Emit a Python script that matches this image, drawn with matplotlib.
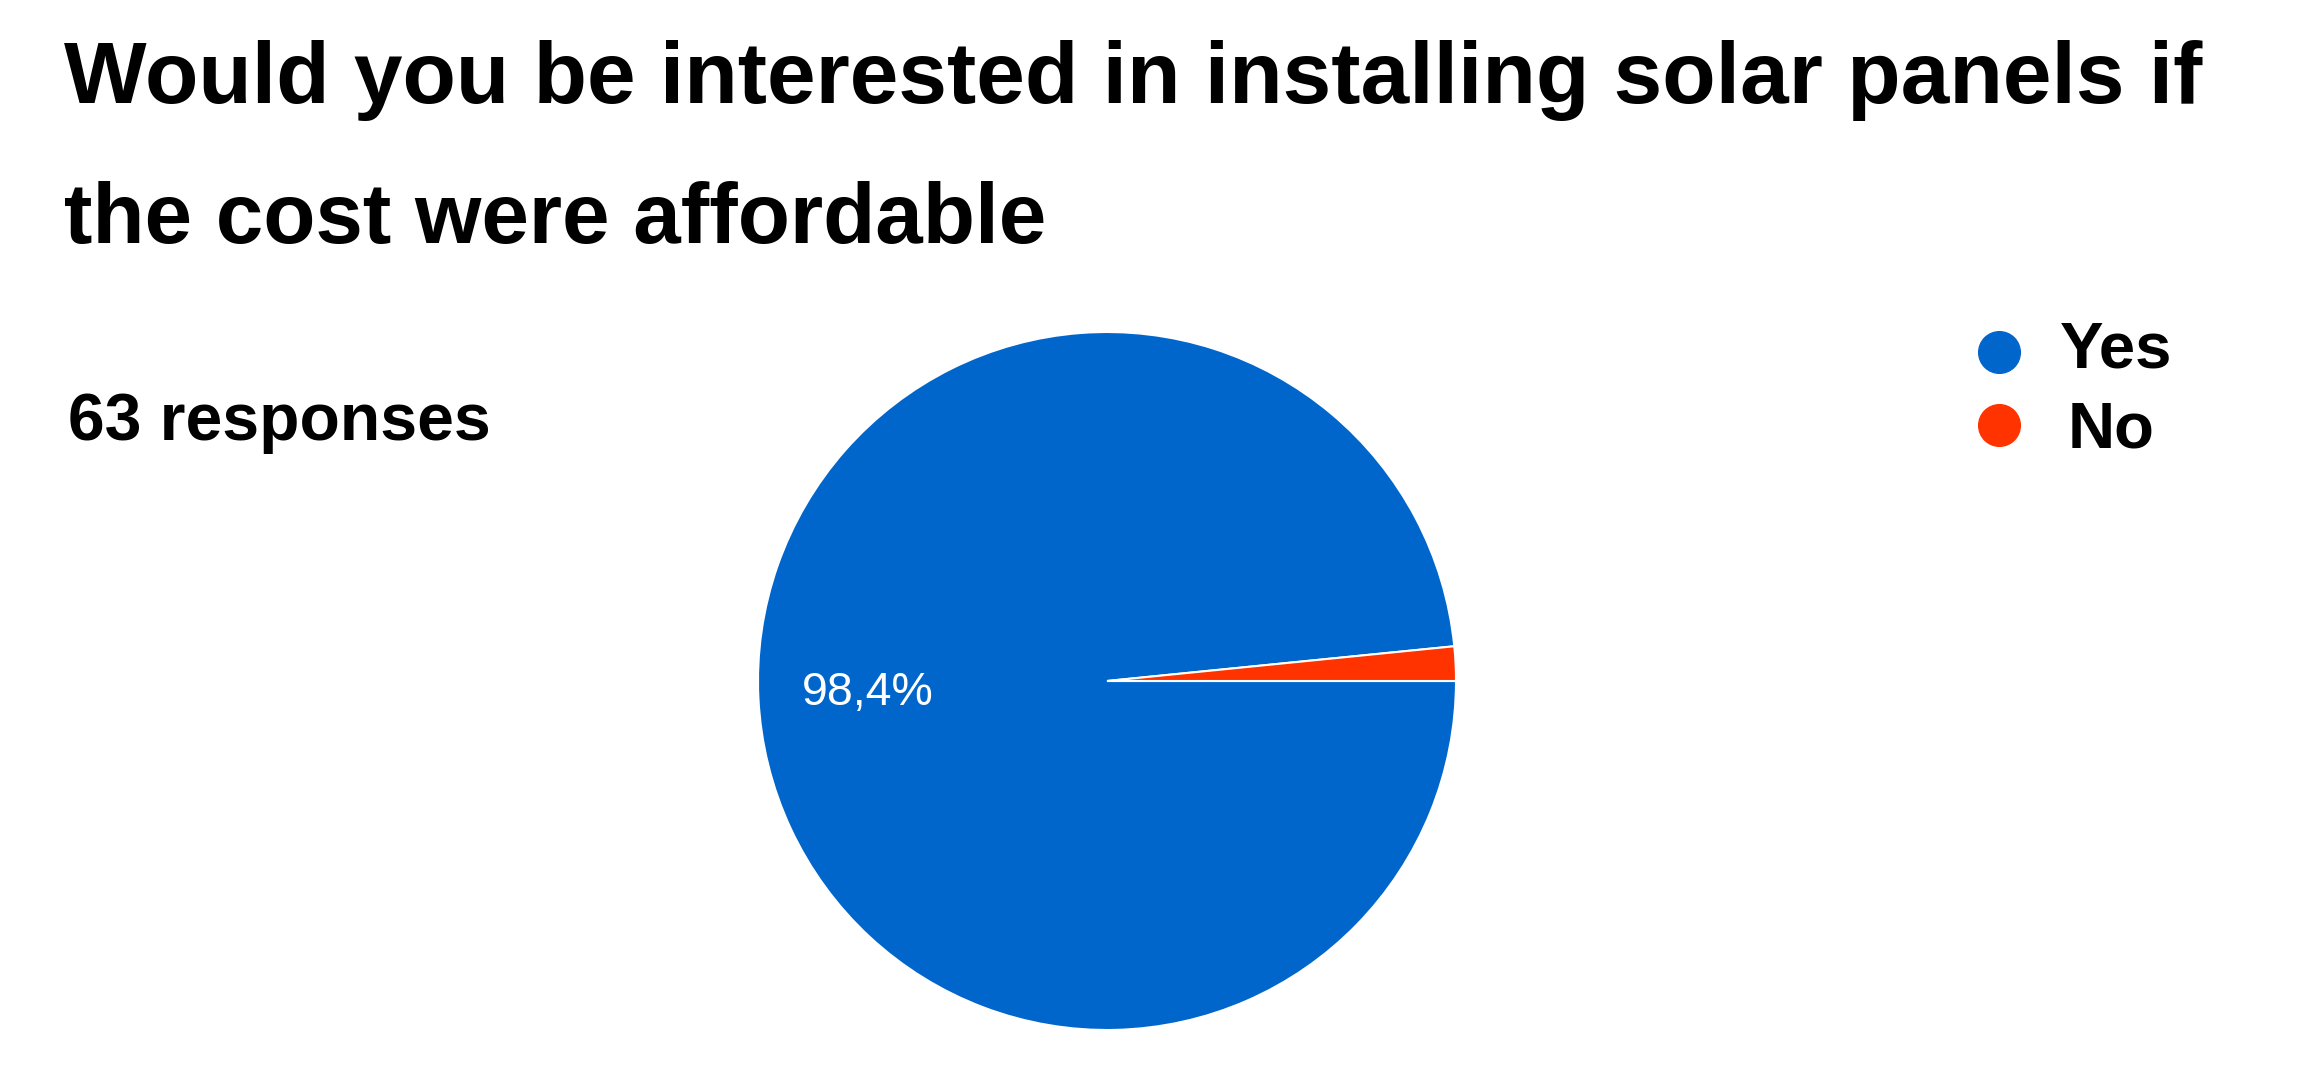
import matplotlib
matplotlib.use("Agg")
import matplotlib.pyplot as plt
from matplotlib.lines import Line2D

categories = ["Yes", "No"]
counts = [62, 1]
colors = ["#0066CC", "#FF3300"]
title_lines = ["Would you be interested in installing solar panels if",
               "the cost were affordable"]
subtitle = "63 responses"
pct_label = "98,4%"

W, H = 2299, 1073
fig = plt.figure(figsize=(W / 100, H / 100), dpi=100)
fig.patch.set_facecolor("white")

FONT = "Liberation Sans"

# Pie
cx, cy, r = 1107, 681, 349
ax = fig.add_axes([(cx - r) / W, (H - cy - r) / H, 2 * r / W, 2 * r / H])
wedges, _ = ax.pie(counts, colors=colors, startangle=360 * counts[1] / sum(counts),
                   counterclock=True, radius=1.0,
                   wedgeprops=dict(edgecolor="white", linewidth=1.5))
ax.set_xlim(-1.0, 1.0)
ax.set_ylim(-1.0, 1.0)
ax.set_aspect("equal")
ax.axis("off")
ax.text(-0.685, -0.034, pct_label, color="white", fontsize=33.5, family=FONT,
        ha="center", va="center")

# Title
fig.text(64 / W, 1 - 103 / H, title_lines[0], fontsize=63, fontweight="bold",
         family=FONT, ha="left", va="baseline")
fig.text(64 / W, 1 - 243 / H, title_lines[1], fontsize=61.5, fontweight="bold",
         family=FONT, ha="left", va="baseline")

fig.text(68 / W, 1 - 440 / H, subtitle, fontsize=47.5, fontweight="bold",
         family=FONT, ha="left", va="baseline")

# Legend
leg_y_marker = [352, 425]
leg_y_text = [368, 447]
leg_x_text = [2060, 2068]
for i, cat in enumerate(categories):
    fig.add_artist(Line2D([1999 / W], [1 - leg_y_marker[i] / H], marker="o",
                          markersize=30, color=colors[i], linestyle="none",
                          transform=fig.transFigure))
    fig.text(leg_x_text[i] / W, 1 - leg_y_text[i] / H, cat, fontsize=47,
             fontweight="bold", family=FONT, ha="left", va="baseline")

fig.savefig("out.png", dpi=100, facecolor="white")
